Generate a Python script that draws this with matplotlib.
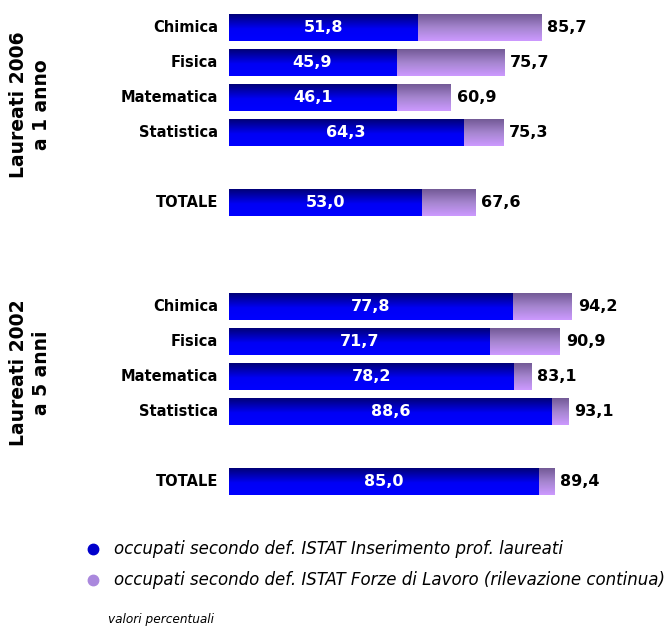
import numpy as np
import matplotlib
matplotlib.use("Agg")
import matplotlib.pyplot as plt
from matplotlib.colors import LinearSegmentedColormap
from matplotlib.lines import Line2D

# Occupation rates (%) by degree course
categories = ["Chimica", "Fisica", "Matematica", "Statistica", "TOTALE"]
inserimento_2006 = [51.8, 45.9, 46.1, 64.3, 53.0]
forze_lavoro_2006 = [85.7, 75.7, 60.9, 75.3, 67.6]
inserimento_2002 = [77.8, 71.7, 78.2, 88.6, 85.0]
forze_lavoro_2002 = [94.2, 90.9, 83.1, 93.1, 89.4]
group_labels = ["Laureati 2006\na 1 anno", "Laureati 2002\na 5 anni"]
legend_labels = [
    "occupati secondo def. ISTAT Inserimento prof. laureati",
    "occupati secondo def. ISTAT Forze di Lavoro (rilevazione continua)",
]
note = "valori percentuali"

# row positions: four courses, a gap, then the total; two blocks
rows_2006 = [0, 1, 2, 3, 5]
rows_2002 = [8, 9, 10, 11, 13]

W, H = 667, 628
fig = plt.figure(figsize=(W / 100, H / 100), dpi=100)
x0_px, x1_px = 229, 667
y_top_px, y_bot_px = 0, 500
ax = fig.add_axes([x0_px / W, 1 - y_bot_px / H, (x1_px - x0_px) / W, (y_bot_px - y_top_px) / H])
px_per_unit = 3.64
ax.set_xlim(0, (x1_px - x0_px) / px_per_unit)
row_px = 34.92
ax.set_ylim((y_bot_px - 27.5) / row_px, -27.5 / row_px)
ax.axis("off")

blue_cmap = LinearSegmentedColormap.from_list(
    "blue", [(0.0, "#000078"), (0.55, "#0000f5"), (1.0, "#0000ff")])
lilac_cmap = LinearSegmentedColormap.from_list(
    "lilac", [(0.0, "#735a96"), (0.5, "#a585cf"), (1.0, "#cc99ff")])
grad = np.linspace(0, 1, 64).reshape(-1, 1)

bar_h = 0.77


def gradient_bars(rows, left, values, cmap):
    bars = ax.barh(rows, np.array(values) - np.array(left), left=left,
                   height=bar_h, color="none", linewidth=0)
    for b in bars:
        x, y = b.get_x(), b.get_y()
        w, h = b.get_width(), b.get_height()
        im = ax.imshow(grad, cmap=cmap, aspect="auto", interpolation="bilinear",
                       extent=(x, x + w, y + h, y), zorder=2)
        im.set_clip_path(b)
    return bars


for rows, ins, fl in [(rows_2006, inserimento_2006, forze_lavoro_2006),
                      (rows_2002, inserimento_2002, forze_lavoro_2002)]:
    gradient_bars(rows, ins, fl, lilac_cmap)
    gradient_bars(rows, [0] * len(ins), ins, blue_cmap)
    for r, a, b, c in zip(rows, ins, fl, categories):
        ax.text(a / 2, r, f"{a:.1f}".replace(".", ","), color="white",
                fontsize=11.5, fontweight="bold", ha="center", va="center", zorder=3)
        ax.text(b + 1.6, r, f"{b:.1f}".replace(".", ","), color="black",
                fontsize=11.5, fontweight="bold", ha="left", va="center", zorder=3)
        ax.text(-3.0, r, c, color="black", fontsize=10.5, fontweight="bold",
                ha="right", va="center")

# block titles on the left
fig.text(30 / W, 1 - 105 / H, group_labels[0], rotation=90, fontsize=13.5,
         fontweight="bold", ha="center", va="center", linespacing=1.25)
fig.text(30 / W, 1 - 373 / H, group_labels[1], rotation=90, fontsize=13.5,
         fontweight="bold", ha="center", va="center", linespacing=1.25)

# legend
for yy, col, lab in [(549, "#0000cc", legend_labels[0]), (580, "#aa88dd", legend_labels[1])]:
    fig.add_artist(Line2D([93 / W], [1 - yy / H], marker="o", markersize=7.5,
                          color=col, linestyle="none"))
    fig.text(114 / W, 1 - yy / H, lab, fontsize=12, style="italic",
             ha="left", va="center")

fig.text(108 / W, 1 - 619 / H, note, fontsize=8.7, style="italic",
         ha="left", va="center")

fig.savefig("out.png", dpi=100, facecolor="white")
